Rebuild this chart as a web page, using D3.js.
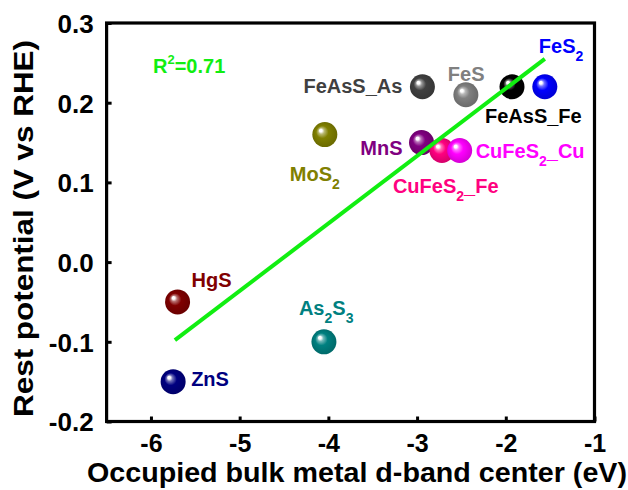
<!DOCTYPE html>
<html>
<head>
<meta charset="utf-8">
<script src="https://cdn.jsdelivr.net/npm/d3@7"></script>
<style>
  html, body { margin: 0; padding: 0; background: #fff; }
  svg { display: block; font-family: "Liberation Sans", Arial, sans-serif; font-weight: bold; }
</style>
</head>
<body>
<div id="chart"></div>
<script>
// ---- data ----
const names   = ["ZnS", "HgS", "As2S3", "MoS2", "FeAsS_As", "FeS", "FeAsS_Fe", "FeS2", "MnS", "CuFeS2_Fe", "CuFeS2_Cu"];
const dband   = [-5.75, -5.70, -4.05, -4.04, -2.94, -2.45, -1.93, -1.56, -2.95, -2.72, -2.52];
const restPot = [-0.15, -0.05, -0.10, 0.16, 0.22, 0.21, 0.22, 0.22, 0.15, 0.14, 0.14];
const fitX = [-5.73, -1.56];
const fitY = [-0.098, 0.255];
const xTicks = [-6, -5, -4, -3, -2, -1];
const yTicks = [-0.2, -0.1, 0.0, 0.1, 0.2, 0.3];
const r2Text = "0.71";

// ---- styling / layout (not data) ----
const colors = {
  ZnS: "#000080", HgS: "#800000", As2S3: "#008080", MoS2: "#808000",
  FeAsS_As: "#404040", FeS: "#808080", FeAsS_Fe: "#000000", FeS2: "#0000ff",
  MnS: "#800080", CuFeS2_Fe: "#ff0080", CuFeS2_Cu: "#ff00ff"
};
// label pieces: [text, isSubscript]
const labelParts = {
  ZnS: [["ZnS", 0]],
  HgS: [["HgS", 0]],
  As2S3: [["As", 0], ["2", 1], ["S", 0], ["3", 1]],
  MoS2: [["MoS", 0], ["2", 1]],
  FeAsS_As: [["FeAsS_As", 0]],
  FeS: [["FeS", 0]],
  FeAsS_Fe: [["FeAsS_Fe", 0]],
  FeS2: [["FeS", 0], ["2", 1]],
  MnS: [["MnS", 0]],
  CuFeS2_Fe: [["CuFeS", 0], ["2", 1], ["_Fe", 0]],
  CuFeS2_Cu: [["CuFeS", 0], ["2", 1], ["_Cu", 0]]
};
const labelPos = { // dx, dy from point centre, anchor
  ZnS: [18, 4, "start"], HgS: [14, -15, "start"], As2S3: [-25, -27, "start"],
  MoS2: [-35, 46, "start"], FeAsS_As: [-20, 6, "end"], FeS: [-18, -14, "start"],
  FeAsS_Fe: [-27, 36, "start"], FeS2: [-6, -34, "start"], MnS: [-19, 12, "end"],
  CuFeS2_Fe: [-49, 42, "start"], CuFeS2_Cu: [16, 7, "start"]
};

const W = 628, H = 490;
const x = d3.scaleLinear().domain([-6.5, -1]).range([106.6, 594.5]);
const y = d3.scaleLinear().domain([-0.2, 0.3]).range([421.5, 23]);

const svg = d3.select("#chart").append("svg").attr("width", W).attr("height", H);
const defs = svg.append("defs");

names.forEach((n, i) => {
  const c = d3.color(colors[n]);
  const g = defs.append("radialGradient").attr("id", "g" + i)
    .attr("cx", "50%").attr("cy", "50%").attr("r", "55%")
    .attr("fx", "32%").attr("fy", "32%");
  g.append("stop").attr("offset", "0%").attr("stop-color", "#ffffff");
  g.append("stop").attr("offset", "10%").attr("stop-color", "#ffffff").attr("stop-opacity", 0.95);
  g.append("stop").attr("offset", "22%").attr("stop-color", d3.interpolateRgb(colors[n], "#ffffff")(0.45));
  g.append("stop").attr("offset", "45%").attr("stop-color", colors[n]);
  g.append("stop").attr("offset", "100%").attr("stop-color", c.darker(0.6).formatHex());
});

// axes
const xAxis = d3.axisBottom(x).tickValues(xTicks).tickSizeInner(-5).tickSizeOuter(0).tickPadding(14)
  .tickFormat(d3.format("d"));
const gx = svg.append("g").attr("transform", `translate(0,${y.range()[0]})`).call(xAxis);
gx.select(".domain").remove();
gx.selectAll("line").attr("stroke", "#000").attr("stroke-width", 3);
gx.selectAll("text").attr("font-size", 25).attr("font-family", "Liberation Sans, Arial, sans-serif")
  .attr("font-weight", "bold").attr("fill", "#000").attr("dy", null).attr("y", 30)
  .text(d => d3.format("d")(d).replace("−", "-"));

const yAxis = d3.axisLeft(y).tickValues(yTicks).tickSizeInner(-5).tickSizeOuter(0).tickPadding(14)
  .tickFormat(d3.format(".1f"));
const gy = svg.append("g").attr("transform", `translate(${x.range()[0]},0)`).call(yAxis);
gy.select(".domain").remove();
gy.selectAll("line").attr("stroke", "#000").attr("stroke-width", 3);
gy.selectAll("text").attr("font-size", 26).attr("font-family", "Liberation Sans, Arial, sans-serif")
  .attr("font-weight", "bold").attr("fill", "#000").attr("x", -13).attr("dy", "0.36em")
  .text(d => d3.format(".1f")(d).replace("−", "-"));

// frame
svg.append("rect")
  .attr("x", x.range()[0]).attr("y", y.range()[1])
  .attr("width", x.range()[1] - x.range()[0]).attr("height", y.range()[0] - y.range()[1])
  .attr("fill", "none").attr("stroke", "#000").attr("stroke-width", 3.2);

// axis titles
svg.append("text").attr("x", 357).attr("y", 482).attr("text-anchor", "middle")
  .attr("font-size", 27).attr("textLength", 540).attr("lengthAdjust", "spacingAndGlyphs")
  .text("Occupied bulk metal d-band center (eV)");
svg.append("text").attr("transform", "translate(33,228.5) rotate(-90)").attr("text-anchor", "middle")
  .attr("font-size", 28).attr("textLength", 377).attr("lengthAdjust", "spacingAndGlyphs")
  .text("Rest potential (V vs RHE)");

// points
const pts = svg.append("g");
names.forEach((n, i) => {
  pts.append("circle").attr("cx", x(dband[i])).attr("cy", y(restPot[i])).attr("r", 12.5)
    .attr("fill", `url(#g${i})`);
});

// labels
names.forEach((n, i) => {
  const [dx, dy, anchor] = labelPos[n];
  const t = svg.append("text")
    .attr("x", x(dband[i]) + dx).attr("y", y(restPot[i]) + dy)
    .attr("text-anchor", anchor).attr("font-size", 20).attr("fill", colors[n]);
  let sub = false;
  labelParts[n].forEach(([s, isSub]) => {
    const ts = t.append("tspan").text(s);
    if (isSub && !sub) { ts.attr("font-size", 14).attr("dy", 8); sub = true; }
    else if (!isSub && sub) { ts.attr("dy", -8); sub = false; }
    else if (isSub) ts.attr("font-size", 14);
  });
});

// fit line (drawn over points)
svg.append("line")
  .attr("x1", x(fitX[0])).attr("y1", y(fitY[0]))
  .attr("x2", x(fitX[1])).attr("y2", y(fitY[1]))
  .attr("stroke", "#11ee11").attr("stroke-width", 4);

// R^2 annotation
const rt = svg.append("text").attr("x", 153).attr("y", 73).attr("font-size", 20).attr("fill", "#11ee11");
rt.append("tspan").text("R");
rt.append("tspan").text("2").attr("font-size", 13).attr("dy", -9);
rt.append("tspan").text("=" + r2Text).attr("dy", 9);
</script>
</body>
</html>
